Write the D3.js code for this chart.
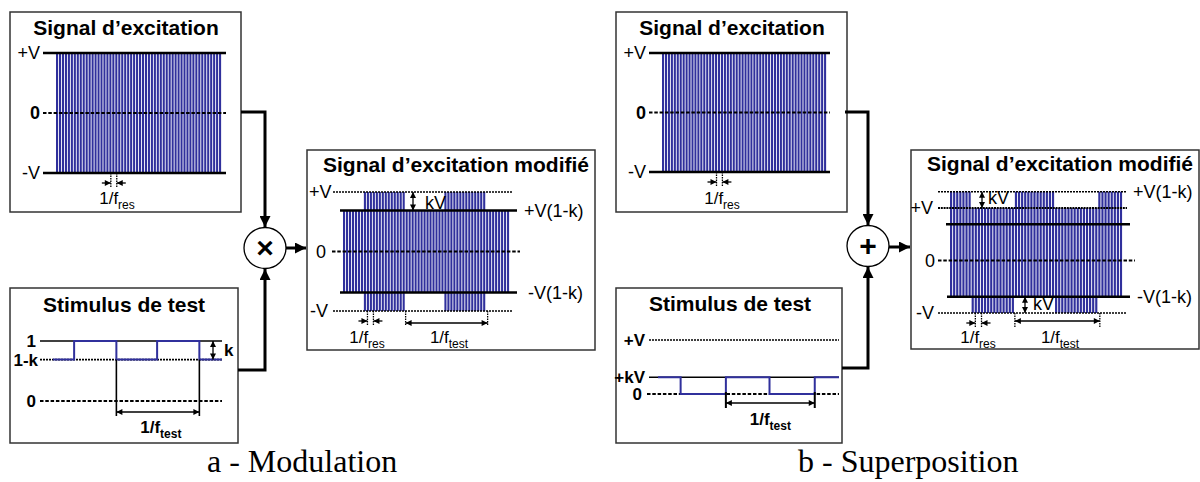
<!DOCTYPE html>
<html><head><meta charset="utf-8">
<script src="https://cdn.jsdelivr.net/npm/d3@7"></script>
<style>body{margin:0;background:#fff} text{font-family:"Liberation Sans",Arial,sans-serif;fill:#000} text.cap{font-family:"Liberation Serif","Times New Roman",serif}</style>
</head><body><svg id="c" width="1200" height="482"></svg>
<script>
// ---------- data ----------
const carrierCycles = 56;                       // carrier pulses across each signal window
const k = 0.31;                                 // depth of the test stimulus
const testEdges = [0, 7, 21, 34.5, 48.5, 56];   // stimulus transition times (carrier cycles)
const stimLevelsA = [1 - k, 1, 1 - k, 1, 1 - k];// modulation stimulus (relative gain)
const stimLevelsB = [k, 0, k, 0, k];            // superposition stimulus (x V)
const testPeriodMarks = [21, 48.5];             // 1/f_test marks
const resMarksExc = [18.5, 20.5];               // 1/f_res marks, excitation box
const resMarksMod = [8.2, 10.2];                // 1/f_res marks, modified box
const titles = ["Signal d\u2019excitation", "Stimulus de test", "Signal d\u2019excitation modifi\u00e9"];
const captions = ["a - Modulation", "b - Superposition"];
const excLabels = ["+V", "0", "-V"];
const stimLabelsA = ["1", "1-k", "0"];
const stimLabelsB = ["+V", "+kV", "0"];
const modLabelsLeft = ["+V", "0", "-V"];
const modLabelsRightA = ["+V(1-k)", "-V(1-k)"];
const modLabelsRightB = ["+V(1-k)", "-V(1-k)"];

// ---------- helpers ----------
const svg = d3.select("#c");
const defs = svg.append("defs");
function mk(id, w, h) {
  defs.append("marker").attr("id", id).attr("viewBox", "0 0 10 10")
    .attr("refX", 10).attr("refY", 5).attr("markerWidth", w).attr("markerHeight", h)
    .attr("markerUnits", "userSpaceOnUse").attr("orient", "auto-start-reverse")
    .append("path").attr("d", "M0,0L10,5L0,10Z").attr("fill", "#000");
}
mk("big", 11, 11); mk("small", 7, 6);
const BLUE = "#30309c";

function box(x0, y0, x1, y1) {
  svg.append("rect").attr("x", x0).attr("y", y0).attr("width", x1 - x0).attr("height", y1 - y0)
    .attr("fill", "none").attr("stroke", "#333").attr("stroke-width", 1.5);
}
function title(t, x, y) {
  svg.append("text").attr("x", x).attr("y", y).attr("text-anchor", "middle")
    .attr("font-weight", "bold").attr("font-size", 21).text(t);
}
function label(t, x, y, anchor, bold, fs) {
  svg.append("text").attr("x", x).attr("y", y + (fs || 18) * 0.36).attr("text-anchor", anchor || "end")
    .attr("font-weight", bold ? "bold" : "normal").attr("font-size", fs || 18).text(t);
}
const STY = {
  thick: {w: 2.6, d: null},
  solid: {w: 1.6, d: null},
  dot: {w: 1.6, d: "2,1"},
  dotThick: {w: 2.2, d: "2,0.8"},
  dash: {w: 2, d: "3.5,1.8"}
};
function hline(x0, x1, y, s) {
  const st = STY[s];
  svg.append("line").attr("x1", x0).attr("x2", x1).attr("y1", y).attr("y2", y)
    .attr("stroke", "#000").attr("stroke-width", st.w).attr("stroke-dasharray", st.d);
}
function levelAt(levels, t) {
  const i = d3.bisectRight(testEdges, t) - 1;
  return levels[Math.max(0, Math.min(levels.length - 1, i))];
}
function carrier(xs, ys, lo, hi) {
  const pitch = xs(1) - xs(0);
  svg.append("g").selectAll("rect").data(d3.range(carrierCycles)).join("rect")
    .attr("x", i => xs(i)).attr("width", pitch * 0.7)
    .attr("y", i => ys(hi(i + 0.5))).attr("height", i => ys(lo(i + 0.5)) - ys(hi(i + 0.5)))
    .attr("fill", BLUE);
}
function fText(x, y, sub, bold) {
  const t = svg.append("text").attr("x", x).attr("y", y).attr("text-anchor", "middle")
    .attr("font-size", 17).attr("font-weight", bold ? "bold" : "normal");
  t.append("tspan").text("1/f");
  t.append("tspan").attr("font-size", 12).attr("dy", 5).text(sub);
}
function resMark(xs, marks, yBase, tx, ty) {
  const [x1, x2] = marks.map(xs);
  [x1, x2].forEach(x => svg.append("line").attr("x1", x).attr("x2", x).attr("y1", yBase).attr("y2", yBase + 14)
    .attr("stroke", "#000").attr("stroke-width", 1.3).attr("stroke-dasharray", "1.5,1"));
  const ya = yBase + 10;
  svg.append("line").attr("x1", x1 - 9).attr("x2", x1).attr("y1", ya).attr("y2", ya)
    .attr("stroke", "#000").attr("stroke-width", 1.3).attr("marker-end", "url(#small)");
  svg.append("line").attr("x1", x2 + 9).attr("x2", x2).attr("y1", ya).attr("y2", ya)
    .attr("stroke", "#000").attr("stroke-width", 1.3).attr("marker-end", "url(#small)");
  fText(tx, ty, "res");
}
function dblH(x1, x2, y) {
  svg.append("line").attr("x1", x1).attr("x2", x2).attr("y1", y).attr("y2", y)
    .attr("stroke", "#000").attr("stroke-width", 1.3)
    .attr("marker-start", "url(#small)").attr("marker-end", "url(#small)");
}
function dblV(x, y1, y2) {
  svg.append("line").attr("x1", x).attr("x2", x).attr("y1", y1).attr("y2", y2)
    .attr("stroke", "#000").attr("stroke-width", 1.3)
    .attr("marker-start", "url(#small)").attr("marker-end", "url(#small)");
}
function vtick(x, y1, y2, w, dash) {
  svg.append("line").attr("x1", x).attr("x2", x).attr("y1", y1).attr("y2", y2)
    .attr("stroke", "#000").attr("stroke-width", w || 1.6).attr("stroke-dasharray", dash || null);
}
function connector(pts) {
  svg.append("path").attr("d", d3.line()(pts)).attr("fill", "none").attr("stroke", "#000")
    .attr("stroke-width", 3).attr("marker-end", "url(#big)");
}
function op(cx, cy, sym) {
  svg.append("ellipse").attr("cx", cx).attr("cy", cy).attr("rx", 21).attr("ry", 20.5)
    .attr("fill", "#fff").attr("stroke", "#000").attr("stroke-width", 1.3);
  svg.append("text").attr("x", cx).attr("y", cy + 10).attr("text-anchor", "middle")
    .attr("font-weight", "bold").attr("font-size", 30).text(sym);
}

// excitation box (shared)
function excitation(bx, lx0, lx1, bar0, bar1, y0, yP, yN, resX) {
  box(bx, 12, bx + 231, 212);
  title(titles[0], bx + 116, 35);
  const xs = d3.scaleLinear().domain([0, carrierCycles]).range([bar0, bar1]);
  const ys = d3.scaleLinear().domain([-1, 1]).range([yN, yP]);
  carrier(xs, ys, () => -1, () => 1);
  hline(lx0, lx1, ys(1), "thick");
  hline(lx0, lx1, ys(0), "dash");
  hline(lx0, lx1, ys(-1), "thick");
  label(excLabels[0], lx0 - 3, ys(1));
  label(excLabels[1], lx0 - 3, ys(0), "end", true);
  label(excLabels[2], lx0 - 3, ys(-1));
  resMark(xs, resMarksExc, ys(-1), resX, 204);
}

// ================= panel a =================
excitation(10, 43, 226, 56, 222, 113, 53, 173, 117);

// stimulus a
box(10, 288, 238, 443);
title(titles[1], 124, 312);
{
  const xs = d3.scaleLinear().domain([0, carrierCycles]).range([53, 222]);
  const ys = d3.scaleLinear().domain([0, 1]).range([401, 341]);
  hline(40, 222, ys(1), "solid");
  hline(40, 222, ys(1 - k), "dot");
  hline(40, 222, ys(0), "dash");
  label(stimLabelsA[0], 36, ys(1), "end", true, 17);
  label(stimLabelsA[1], 38, ys(1 - k), "end", true, 17);
  label(stimLabelsA[2], 36, ys(0), "end", true, 17);
  const pts = [];
  stimLevelsA.forEach((v, i) => { pts.push([xs(testEdges[i]), ys(v)]); pts.push([xs(testEdges[i + 1]), ys(v)]); });
  svg.append("path").attr("d", d3.line()(pts)).attr("fill", "none").attr("stroke", BLUE).attr("stroke-width", 2);
  testPeriodMarks.forEach(t => vtick(xs(t), ys(1 - k), 416, 1.6));
  dblH(xs(testPeriodMarks[0]), xs(testPeriodMarks[1]), 412);
  fText((xs(testPeriodMarks[0]) + xs(testPeriodMarks[1])) / 2 + 3, 433, "test", true);
  dblV(213, ys(1), ys(1 - k));
  label("k", 224, (ys(1) + ys(1 - k)) / 2, "start", true, 17);
}

// operator a
connector([[241, 112], [265, 112], [265, 227]]);
connector([[238, 370], [265, 370], [265, 269]]);
op(265, 248, "\u00d7");
connector([[286, 248], [306, 248]]);

// modified a
box(307, 150, 595, 350);
title(titles[2], 456, 172);
{
  const xs = d3.scaleLinear().domain([0, carrierCycles]).range([343, 510]);
  const ys = d3.scaleLinear().domain([-1, 1]).range([311, 192]);
  carrier(xs, ys, t => -levelAt(stimLevelsA, t), t => levelAt(stimLevelsA, t));
  hline(333, 513, ys(1), "dot");
  hline(340, 517, ys(1 - k), "thick");
  hline(332, 520, ys(0), "dash");
  hline(340, 517, ys(-(1 - k)), "thick");
  hline(333, 513, ys(-1), "dot");
  label(modLabelsLeft[0], 309, ys(1), "start");
  label(modLabelsLeft[1], 326, ys(0), "end");
  label(modLabelsLeft[2], 328, ys(-1), "end");
  label(modLabelsRightA[0], 524, ys(1 - k), "start");
  label(modLabelsRightA[1], 528, ys(-(1 - k)), "start");
  dblV(413, ys(1), ys(1 - k));
  label("kV", 425, ys(1) + 11, "start");
  resMark(xs, resMarksMod, ys(-1), 367, 343);
  testPeriodMarks.forEach(t => vtick(xs(t), ys(-1), ys(-1) + 15, 1.3, "1.5,1"));
  dblH(xs(testPeriodMarks[0]), xs(testPeriodMarks[1]), 323);
  fText(449, 343, "test");
}

// ================= panel b =================
excitation(616, 649, 830, 662, 827, 112, 53, 172, 722);

// stimulus b
box(616, 288, 842, 443);
title(titles[1], 730, 311);
{
  const xs = d3.scaleLinear().domain([0, carrierCycles]).range([658, 839]);
  const ys = d3.scaleLinear().domain([0, 1]).range([394, 340]);
  hline(649, 839, ys(1), "dot");
  hline(649, 839, ys(k), "solid");
  hline(647, 839, ys(0), "dash");
  label(stimLabelsB[0], 645, ys(1), "end", true, 17);
  label(stimLabelsB[1], 645, ys(k), "end", true, 17);
  label(stimLabelsB[2], 642, ys(0), "end", true, 17);
  const pts = [];
  stimLevelsB.forEach((v, i) => { pts.push([xs(testEdges[i]), ys(v)]); pts.push([xs(testEdges[i + 1]), ys(v)]); });
  svg.append("path").attr("d", d3.line()(pts)).attr("fill", "none").attr("stroke", BLUE).attr("stroke-width", 2);
  testPeriodMarks.forEach(t => vtick(xs(t), ys(0) - 2, 408, 2));
  dblH(xs(testPeriodMarks[0]), xs(testPeriodMarks[1]), 403);
  fText((xs(testPeriodMarks[0]) + xs(testPeriodMarks[1])) / 2, 425, "test", true);
}

// operator b
connector([[845, 112], [868, 112], [868, 225]]);
connector([[842, 368], [868, 368], [868, 267]]);
op(868, 246, "+");
connector([[889, 247], [910, 247]]);

// modified b
box(911, 150, 1199, 349);
title(titles[2], 1060, 171);
{
  const xs = d3.scaleLinear().domain([0, carrierCycles]).range([950, 1123]);
  const ys = d3.scaleLinear().domain([-1, 1]).range([313, 208]);
  carrier(xs, ys, t => levelAt(stimLevelsB, t) - 1, t => levelAt(stimLevelsB, t) + 1);
  hline(938, 1127, ys(1 + k), "dot");
  hline(938, 1127, ys(1), "dotThick");
  hline(946, 1130, ys(1 - k), "thick");
  hline(938, 1135, ys(0), "dash");
  hline(947, 1130, ys(-(1 - k)), "thick");
  hline(938, 1127, ys(-1), "dot");
  label(modLabelsLeft[0], 933, ys(1), "end");
  label(modLabelsLeft[1], 935, ys(0), "end");
  label(modLabelsLeft[2], 934, ys(-1), "end");
  label(modLabelsRightB[0], 1133, ys(1 + k), "start");
  label(modLabelsRightB[1], 1137, ys(-(1 - k)), "start");
  dblV(982, ys(1 + k), ys(1));
  label("kV", 988, ys(1 + k) + 6, "start");
  dblV(1025, ys(-(1 - k)), ys(-1));
  label("kV", 1033, ys(-(1 - k)) + 7, "start");
  resMark(xs, resMarksMod, ys(-1), 978, 343);
  testPeriodMarks.forEach(t => vtick(xs(t), ys(-1), ys(-1) + 14, 1.3, "1.5,1"));
  dblH(xs(testPeriodMarks[0]), xs(testPeriodMarks[1]), 321);
  fText(1060, 343, "test");
}

// captions
svg.append("text").attr("class", "cap").attr("x", 207).attr("y", 472).attr("font-size", 32).text(captions[0]);
svg.append("text").attr("class", "cap").attr("x", 798).attr("y", 472).attr("font-size", 32).text(captions[1]);
</script></body></html>
